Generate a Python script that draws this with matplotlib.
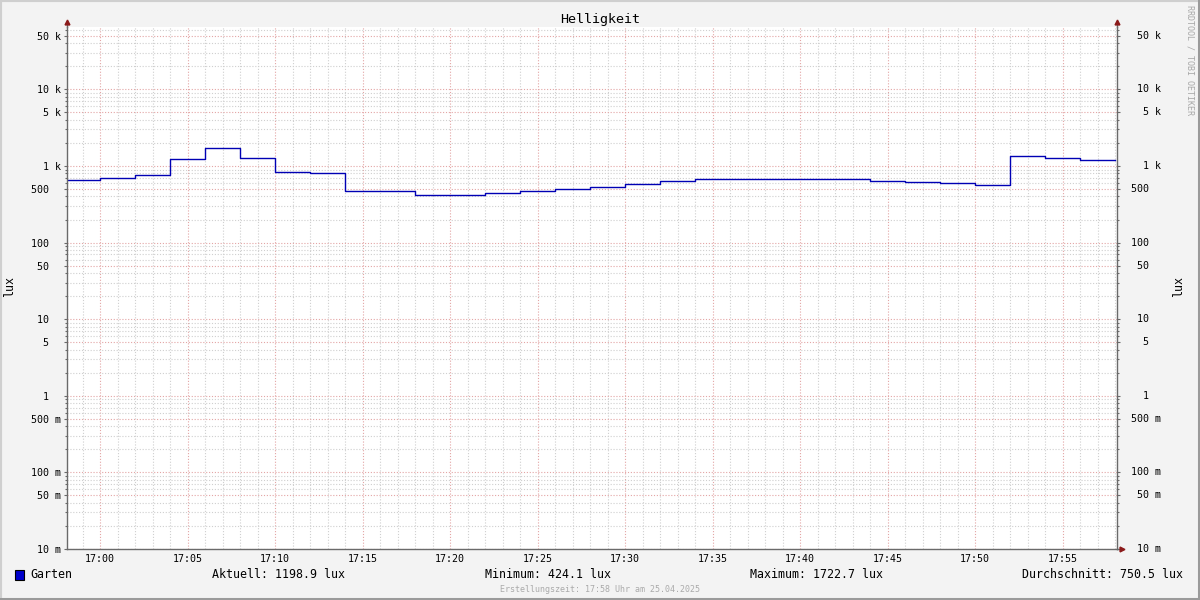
import numpy as np
import pandas as pd
import matplotlib
matplotlib.use('Agg')
import matplotlib.pyplot as plt
import matplotlib.dates as mdates
import matplotlib.transforms as mtrans
from matplotlib.ticker import FixedLocator, NullFormatter, LogLocator
from matplotlib.patches import Rectangle

# rrd steps (2 min) and lux values
step_start = pd.date_range('2025-04-25 16:58', periods=30, freq='2min')
lux = [657, 690, 763, 1222, 1718, 1260, 828, 803, 472, 472,
       424, 424, 445, 468, 506, 537, 583, 632, 671, 671,
       671, 671, 671, 643, 613, 595, 560, 1338, 1260, 1199]

ytick_vals = [5e4, 1e4, 5e3, 1e3, 500, 100, 50, 10, 5, 1, 0.5, 0.1, 0.05, 0.01]
ytick_labels = ['50 k', '10 k', '5 k', '1 k', '500  ', '100  ', '50  ', '10  ',
                '5  ', '1  ', '500 m', '100 m', '50 m', '10 m']

title = 'Helligkeit'
series_name = 'Garten'
stats = ['Aktuell: 1198.9 lux', 'Minimum: 424.1 lux',
         'Maximum: 1722.7 lux', 'Durchschnitt: 750.5 lux']
footer = 'Erstellungszeit: 17:58 Uhr am 25.04.2025'
watermark = 'RRDTOOL / TOBI OETIKER'

MONO = 'DejaVu Sans Mono'
BG = '#f3f3f3'
LINE = '#0000b4'
GRID_MINOR = '#cfcfcf'
GRID_MAJOR = '#e3a5a5'
AXIS = '#6a6a6a'
ARROW = '#8b1a1a'

plt.rcParams['font.family'] = MONO

fig = plt.figure(figsize=(12, 6), dpi=100, facecolor=BG)
W, H = 1200., 600.
ax = fig.add_axes([67 / W, 51 / H, 1050 / W, 522 / H])
ax.set_facecolor('white')

# data, stepped like rrdtool
x = list(step_start) + [step_start[-1] + pd.Timedelta(minutes=2)]
y = lux + [lux[-1]]
ax.plot(x, y, drawstyle='steps-post', color=LINE, lw=1.0)

ax.set_yscale('log')
ax.set_ylim(0.01, 10 ** (-2 + 522 / 76.6))
ax.set_xlim(pd.Timestamp('2025-04-25 16:58:06'), pd.Timestamp('2025-04-25 17:58:06'))

ax.yaxis.set_major_locator(FixedLocator(ytick_vals))
ax.yaxis.set_major_formatter(matplotlib.ticker.FixedFormatter(ytick_labels))
ax.yaxis.set_minor_locator(LogLocator(base=10, subs=(2, 3, 4, 6, 7, 8, 9), numticks=20))
ax.yaxis.set_minor_formatter(NullFormatter())

ax.xaxis.set_major_locator(mdates.MinuteLocator(byminute=range(0, 60, 5)))
ax.xaxis.set_minor_locator(mdates.MinuteLocator())
ax.xaxis.set_major_formatter(mdates.DateFormatter('%H:%M'))

dots = (0, (1, 1.6))
ax.grid(True, which='minor', color=GRID_MINOR, lw=0.8, linestyle=dots)
ax.grid(True, which='major', color=GRID_MAJOR, lw=0.8, linestyle=dots)
ax.set_axisbelow(True)

ax.tick_params(axis='y', which='both', direction='out', length=2.5, width=0.8,
               color=AXIS, left=True, right=True, labelsize=7.2, pad=2)
ax.tick_params(axis='y', which='minor', length=1.5)
ax.tick_params(axis='x', which='both', length=0, labelsize=7.2, pad=3.5)

for s in ['left', 'right', 'bottom']:
    ax.spines[s].set_color(AXIS)
    ax.spines[s].set_linewidth(1)
ax.spines['top'].set_visible(False)

# right-hand labels, right aligned like rrdtool
tr = mtrans.blended_transform_factory(ax.transAxes, ax.transData)
for v, lab in zip(ytick_vals, ytick_labels):
    ax.text(1 + 44 / 1050, v, lab, transform=tr, ha='right', va='center',
            fontsize=7.2, family=MONO, clip_on=False)

# axis arrows
ax.plot([0, 0], [1, 1.008], transform=ax.transAxes, color=AXIS, lw=1, clip_on=False)
ax.plot([1, 1], [1, 1.008], transform=ax.transAxes, color=AXIS, lw=1, clip_on=False)
ax.plot([1, 1.003], [0, 0], transform=ax.transAxes, color=AXIS, lw=1, clip_on=False)
ax.plot([0, 1], [1.0105, 1.0105], transform=ax.transAxes, ls='none', marker='^',
        ms=3.5, color=ARROW, clip_on=False)
ax.plot([1.0045], [0], transform=ax.transAxes, ls='none', marker='>',
        ms=3.5, color=ARROW, clip_on=False)

# y labels
fig.text(10 / W, 1 - 287 / H, 'lux', rotation=90, ha='center', va='center', fontsize=8.4)
fig.text(1179 / W, 1 - 287 / H, 'lux', rotation=90, ha='center', va='center', fontsize=8.4)

fig.text(0.5, 1 - 19 / H, title, ha='center', va='center', fontsize=9.6)

# legend row
fig.patches.append(Rectangle((15 / W, 1 - 580 / H), 9 / W, 10 / H, transform=fig.transFigure,
                             facecolor='#0000cc', edgecolor='black', lw=0.8))
fig.text(30 / W, 1 - 575 / H, series_name, ha='left', va='center', fontsize=8.4)
fig.text(212 / W, 1 - 575 / H, stats[0], ha='left', va='center', fontsize=8.4)
fig.text(485 / W, 1 - 575 / H, stats[1], ha='left', va='center', fontsize=8.4)
fig.text(750 / W, 1 - 575 / H, stats[2], ha='left', va='center', fontsize=8.4)
fig.text(1183 / W, 1 - 575 / H, stats[3], ha='right', va='center', fontsize=8.4)

fig.text(0.5, 1 - 589 / H, footer, ha='center', va='center', fontsize=6, color='#aaaaaa')
fig.text(1190 / W, 1 - 5 / H, watermark, rotation=270, ha='center', va='top',
         fontsize=6, color='#a8a8a8')

# frame around the canvas
fig.patches.append(Rectangle((0, 0), 1, 1, transform=fig.transFigure, fill=False,
                             edgecolor='#cfcfcf', lw=3))
fig.patches.append(Rectangle((0, 0), 1, 2 / H, transform=fig.transFigure,
                             facecolor='#9a9a9a', edgecolor='none'))
fig.patches.append(Rectangle((1 - 2 / W, 0), 2 / W, 1, transform=fig.transFigure,
                             facecolor='#9a9a9a', edgecolor='none'))

fig.savefig('out.png', dpi=100, facecolor=BG)
